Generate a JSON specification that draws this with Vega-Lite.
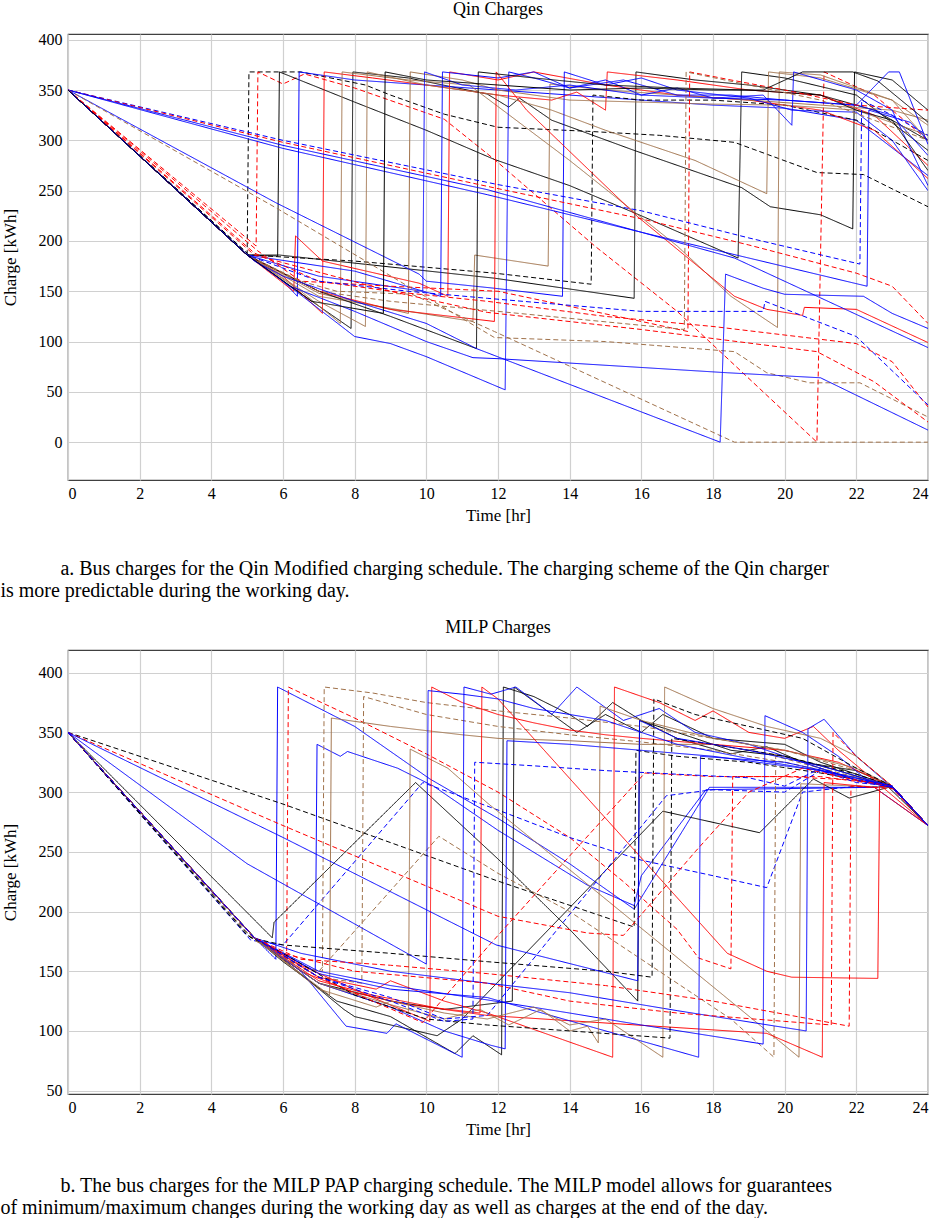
{
"$schema":"https://vega.github.io/schema/vega-lite/v6.json",
"background":"white",
"padding":{"left":0,"top":0,"right":0,"bottom":0},
"config":{
 "font":"Liberation Serif",
 "view":{"stroke":"#404040","strokeWidth":1.2},
 "axis":{"grid":true,"gridColor":"#d0d0d0","gridWidth":1.2,"domain":false,"ticks":false,"tickSize":0,"labelFont":"Liberation Serif","labelFontSize":16,"labelColor":"#000","titleFont":"Liberation Serif","titleFontSize":17,"titleFontWeight":"normal","titleColor":"#000"},
 "axisX":{"labelPadding":5,"titlePadding":6,"labelFont":"Liberation Serif"},
 "axisY":{"labelPadding":6,"titlePadding":19,"labelFont":"Liberation Serif"},
 "title":{"font":"Liberation Serif","fontSize":18,"fontWeight":"normal","color":"#000"}
},
"datasets":{
"serA":[{"s":1,"c":"black","d":"dashed"},{"s":2,"c":"red","d":"dashed"},{"s":3,"c":"black","d":"solid"},{"s":4,"c":"black","d":"solid"},{"s":5,"c":"blue","d":"solid"},{"s":6,"c":"black","d":"dashed"},{"s":7,"c":"black","d":"solid"},{"s":8,"c":"red","d":"solid"},{"s":9,"c":"red","d":"solid"},{"s":10,"c":"brown","d":"solid"},{"s":11,"c":"brown","d":"solid"},{"s":12,"c":"brown","d":"solid"},{"s":13,"c":"brown","d":"solid"},{"s":14,"c":"blue","d":"solid"},{"s":15,"c":"blue","d":"solid"},{"s":16,"c":"blue","d":"solid"},{"s":17,"c":"blue","d":"solid"},{"s":18,"c":"red","d":"solid"},{"s":19,"c":"black","d":"solid"},{"s":20,"c":"red","d":"dashed"},{"s":21,"c":"blue","d":"dashed"},{"s":22,"c":"red","d":"dashed"},{"s":23,"c":"blue","d":"solid"},{"s":24,"c":"blue","d":"solid"},{"s":26,"c":"brown","d":"dashed"},{"s":27,"c":"brown","d":"dashed"},{"s":28,"c":"brown","d":"dashed"},{"s":29,"c":"red","d":"dashed"},{"s":30,"c":"red","d":"dashed"},{"s":31,"c":"blue","d":"dashed"},{"s":32,"c":"blue","d":"solid"},{"s":33,"c":"blue","d":"solid"},{"s":34,"c":"black","d":"solid"}],
"pa":[
{"s":1,"t":0,"v":350},{"s":1,"t":5.0,"v":188},{"s":1,"t":5.05,"v":368},{"s":1,"t":6.5,"v":368},{"s":1,"t":8.3,"v":355},{"s":1,"t":9,"v":345},{"s":1,"t":10.5,"v":326},{"s":1,"t":12,"v":313},{"s":1,"t":14.5,"v":309},{"s":1,"t":16.5,"v":305},{"s":1,"t":18.6,"v":298},{"s":1,"t":20.9,"v":268},{"s":1,"t":22.2,"v":266},{"s":1,"t":24,"v":234},
{"s":2,"t":0,"v":350},{"s":2,"t":5.25,"v":195},{"s":2,"t":5.3,"v":368},{"s":2,"t":6,"v":356},{"s":2,"t":6.6,"v":366},{"s":2,"t":8,"v":352},{"s":2,"t":10.5,"v":321},{"s":2,"t":11.9,"v":281},{"s":2,"t":14.7,"v":195},{"s":2,"t":17,"v":130},{"s":2,"t":20.9,"v":0},{"s":2,"t":21.1,"v":368},{"s":2,"t":22.5,"v":345},{"s":2,"t":24,"v":300},
{"s":3,"t":0,"v":350},{"s":3,"t":5,"v":186},{"s":3,"t":5.85,"v":185},{"s":3,"t":5.9,"v":368},{"s":3,"t":8,"v":338},{"s":3,"t":10,"v":310},{"s":3,"t":11.9,"v":281},{"s":3,"t":14,"v":255},{"s":3,"t":16,"v":225},{"s":3,"t":18.7,"v":183},{"s":3,"t":18.8,"v":368},{"s":3,"t":20,"v":362},{"s":3,"t":22,"v":345},{"s":3,"t":24,"v":290},
{"s":4,"t":0,"v":350},{"s":4,"t":5,"v":186},{"s":4,"t":6,"v":160},{"s":4,"t":7.9,"v":113},{"s":4,"t":7.95,"v":368},{"s":4,"t":9.5,"v":362},{"s":4,"t":11.7,"v":346},{"s":4,"t":12.3,"v":333},{"s":4,"t":12.6,"v":342},{"s":4,"t":13.5,"v":320},{"s":4,"t":15.8,"v":290},{"s":4,"t":18.8,"v":253},{"s":4,"t":19.6,"v":234},{"s":4,"t":21,"v":226},{"s":4,"t":21.9,"v":212},{"s":4,"t":21.95,"v":368},{"s":4,"t":23,"v":360},{"s":4,"t":24,"v":330},
{"s":5,"t":0,"v":350},{"s":5,"t":5,"v":186},{"s":5,"t":6,"v":160},{"s":5,"t":6.4,"v":145},{"s":5,"t":6.45,"v":368},{"s":5,"t":8,"v":360},{"s":5,"t":10,"v":355},{"s":5,"t":12,"v":350},{"s":5,"t":14,"v":345},{"s":5,"t":16,"v":340},{"s":5,"t":18,"v":335},{"s":5,"t":20,"v":332},{"s":5,"t":22,"v":320},{"s":5,"t":24,"v":265},
{"s":6,"t":0,"v":350},{"s":6,"t":5.05,"v":186},{"s":6,"t":8,"v":180},{"s":6,"t":11.9,"v":168},{"s":6,"t":14.6,"v":157},{"s":6,"t":14.65,"v":345},{"s":6,"t":16,"v":340},{"s":6,"t":18,"v":340},{"s":6,"t":20,"v":335},{"s":6,"t":22,"v":320},{"s":6,"t":24,"v":280},
{"s":7,"t":0,"v":350},{"s":7,"t":5,"v":186},{"s":7,"t":5.9,"v":186},{"s":7,"t":11.9,"v":163},{"s":7,"t":15.8,"v":143},{"s":7,"t":15.85,"v":368},{"s":7,"t":17.5,"v":360},{"s":7,"t":19,"v":355},{"s":7,"t":21,"v":345},{"s":7,"t":22.5,"v":330},{"s":7,"t":24,"v":300},
{"s":8,"t":0,"v":350},{"s":8,"t":5,"v":186},{"s":8,"t":6,"v":165},{"s":8,"t":7.1,"v":128},{"s":8,"t":7.15,"v":368},{"s":8,"t":8.5,"v":362},{"s":8,"t":10,"v":355},{"s":8,"t":11,"v":350},{"s":8,"t":12,"v":345},{"s":8,"t":13.5,"v":340},{"s":8,"t":14.2,"v":348},{"s":8,"t":15,"v":330},{"s":8,"t":15.05,"v":368},{"s":8,"t":17,"v":360},{"s":8,"t":19,"v":350},{"s":8,"t":21,"v":345},{"s":8,"t":22.5,"v":325},{"s":8,"t":24,"v":275},
{"s":9,"t":0,"v":350},{"s":9,"t":5,"v":186},{"s":9,"t":6.3,"v":150},{"s":9,"t":6.35,"v":205},{"s":9,"t":7.1,"v":180},{"s":9,"t":9.8,"v":158},{"s":9,"t":10.6,"v":145},{"s":9,"t":10.65,"v":368},{"s":9,"t":12,"v":360},{"s":9,"t":13,"v":368},{"s":9,"t":15,"v":355},{"s":9,"t":17,"v":345},{"s":9,"t":19,"v":340},{"s":9,"t":21,"v":330},{"s":9,"t":22.5,"v":310},{"s":9,"t":24,"v":262},
{"s":10,"t":0,"v":350},{"s":10,"t":5,"v":186},{"s":10,"t":6.5,"v":150},{"s":10,"t":7.6,"v":118},{"s":10,"t":7.65,"v":368},{"s":10,"t":9.5,"v":360},{"s":10,"t":11.2,"v":355},{"s":10,"t":14,"v":280},{"s":10,"t":17,"v":195},{"s":10,"t":18.5,"v":145},{"s":10,"t":19.8,"v":114},{"s":10,"t":19.85,"v":368},{"s":10,"t":21,"v":365},{"s":10,"t":23,"v":340},{"s":10,"t":24,"v":300},
{"s":11,"t":0,"v":350},{"s":11,"t":5,"v":186},{"s":11,"t":7,"v":140},{"s":11,"t":8.3,"v":115},{"s":11,"t":8.35,"v":368},{"s":11,"t":10,"v":355},{"s":11,"t":12,"v":345},{"s":11,"t":13.5,"v":330},{"s":11,"t":15,"v":310},{"s":11,"t":17.5,"v":280},{"s":11,"t":19.5,"v":247},{"s":11,"t":19.55,"v":368},{"s":11,"t":21,"v":362},{"s":11,"t":23,"v":340},{"s":11,"t":24,"v":315},
{"s":12,"t":0,"v":350},{"s":12,"t":5,"v":186},{"s":12,"t":7,"v":148},{"s":12,"t":9.5,"v":128},{"s":12,"t":9.55,"v":368},{"s":12,"t":11,"v":360},{"s":12,"t":12,"v":350},{"s":12,"t":14,"v":340},{"s":12,"t":16,"v":338},{"s":12,"t":18,"v":336},{"s":12,"t":20,"v":335},{"s":12,"t":22,"v":330},{"s":12,"t":24,"v":305},
{"s":13,"t":0,"v":350},{"s":13,"t":5,"v":186},{"s":13,"t":7,"v":145},{"s":13,"t":9.5,"v":130},{"s":13,"t":11.3,"v":120},{"s":13,"t":11.35,"v":186},{"s":13,"t":13.4,"v":175},{"s":13,"t":13.45,"v":356},{"s":13,"t":15,"v":350},{"s":13,"t":17,"v":345},{"s":13,"t":19,"v":340},{"s":13,"t":21,"v":335},{"s":13,"t":23,"v":330},{"s":13,"t":24,"v":320},
{"s":14,"t":0,"v":350},{"s":14,"t":5,"v":186},{"s":14,"t":7,"v":165},{"s":14,"t":9.9,"v":150},{"s":14,"t":9.95,"v":368},{"s":14,"t":11,"v":355},{"s":14,"t":12.5,"v":350},{"s":14,"t":14,"v":355},{"s":14,"t":16,"v":345},{"s":14,"t":18,"v":342},{"s":14,"t":19.4,"v":345},{"s":14,"t":20.2,"v":315},{"s":14,"t":20.25,"v":368},{"s":14,"t":22,"v":350},{"s":14,"t":23,"v":330},{"s":14,"t":24,"v":255},
{"s":15,"t":0,"v":350},{"s":15,"t":5,"v":186},{"s":15,"t":8,"v":170},{"s":15,"t":10.4,"v":145},{"s":15,"t":10.45,"v":368},{"s":15,"t":12,"v":362},{"s":15,"t":13,"v":368},{"s":15,"t":14,"v":352},{"s":15,"t":15.5,"v":360},{"s":15,"t":17,"v":345},{"s":15,"t":18.5,"v":345},{"s":15,"t":20,"v":340},{"s":15,"t":22,"v":335},{"s":15,"t":22.9,"v":368},{"s":15,"t":23.2,"v":368},{"s":15,"t":24,"v":296},
{"s":16,"t":0,"v":350},{"s":16,"t":5,"v":186},{"s":16,"t":6,"v":160},{"s":16,"t":8,"v":105},{"s":16,"t":9,"v":98},{"s":16,"t":10,"v":85},{"s":16,"t":11,"v":70},{"s":16,"t":12.2,"v":52},{"s":16,"t":12.3,"v":368},{"s":16,"t":13,"v":362},{"s":16,"t":14,"v":352},{"s":16,"t":15,"v":360},{"s":16,"t":16,"v":345},{"s":16,"t":17,"v":352},{"s":16,"t":18,"v":342},{"s":16,"t":20,"v":340},{"s":16,"t":22,"v":335},{"s":16,"t":23,"v":325},{"s":16,"t":24,"v":285},
{"s":17,"t":0,"v":350},{"s":17,"t":5.8,"v":238},{"s":17,"t":9.8,"v":167},{"s":17,"t":10,"v":160},{"s":17,"t":11.9,"v":153},{"s":17,"t":13.8,"v":145},{"s":17,"t":13.85,"v":368},{"s":17,"t":15,"v":355},{"s":17,"t":16,"v":362},{"s":17,"t":17,"v":350},{"s":17,"t":19,"v":342},{"s":17,"t":20.2,"v":330},{"s":17,"t":22,"v":328},{"s":17,"t":23,"v":300},{"s":17,"t":24,"v":250},
{"s":18,"t":0,"v":350},{"s":18,"t":5,"v":186},{"s":18,"t":7,"v":150},{"s":18,"t":9,"v":132},{"s":18,"t":11.9,"v":120},{"s":18,"t":11.95,"v":368},{"s":18,"t":12.8,"v":330},{"s":18,"t":15.9,"v":224},{"s":18,"t":18.6,"v":145},{"s":18,"t":19.5,"v":132},{"s":18,"t":20.5,"v":126},{"s":18,"t":20.55,"v":134},{"s":18,"t":22,"v":132},{"s":18,"t":24,"v":99},
{"s":19,"t":0,"v":350},{"s":19,"t":5,"v":186},{"s":19,"t":7,"v":150},{"s":19,"t":9,"v":125},{"s":19,"t":11.4,"v":93},{"s":19,"t":11.45,"v":368},{"s":19,"t":13,"v":362},{"s":19,"t":15,"v":355},{"s":19,"t":17,"v":352},{"s":19,"t":19,"v":350},{"s":19,"t":21,"v":345},{"s":19,"t":22,"v":330},{"s":19,"t":23,"v":320},{"s":19,"t":24,"v":270},
{"s":20,"t":0,"v":350},{"s":20,"t":5.3,"v":190},{"s":20,"t":6.5,"v":160},{"s":20,"t":9,"v":155},{"s":20,"t":12,"v":150},{"s":20,"t":14,"v":135},{"s":20,"t":16,"v":120},{"s":20,"t":17.3,"v":110},{"s":20,"t":17.35,"v":368},{"s":20,"t":18.5,"v":360},{"s":20,"t":20,"v":350},{"s":20,"t":22,"v":335},{"s":20,"t":24,"v":330},
{"s":21,"t":0,"v":350},{"s":21,"t":6,"v":300},{"s":21,"t":12,"v":256},{"s":21,"t":16,"v":230},{"s":21,"t":19,"v":203},{"s":21,"t":22.1,"v":177},{"s":21,"t":22.15,"v":340},{"s":21,"t":23,"v":325},{"s":21,"t":24,"v":305},
{"s":22,"t":0,"v":350},{"s":22,"t":6,"v":298},{"s":22,"t":12,"v":252},{"s":22,"t":16,"v":222},{"s":22,"t":19,"v":196},{"s":22,"t":22,"v":168},{"s":22,"t":23,"v":155},{"s":22,"t":24,"v":118},
{"s":23,"t":0,"v":350},{"s":23,"t":6,"v":295},{"s":23,"t":11.7,"v":251},{"s":23,"t":18.6,"v":183},{"s":23,"t":24,"v":94},
{"s":24,"t":0,"v":350},{"s":24,"t":6,"v":292},{"s":24,"t":11.7,"v":246},{"s":24,"t":17,"v":200},{"s":24,"t":22.3,"v":155},{"s":24,"t":22.35,"v":330},{"s":24,"t":23.5,"v":318},{"s":24,"t":24,"v":300},
{"s":26,"t":0,"v":350},{"s":26,"t":5.8,"v":233},{"s":26,"t":11.9,"v":104},{"s":26,"t":15,"v":100},{"s":26,"t":18.6,"v":90},{"s":26,"t":19.5,"v":69},{"s":26,"t":20.7,"v":59},{"s":26,"t":22.1,"v":59},{"s":26,"t":24,"v":25},
{"s":27,"t":0,"v":350},{"s":27,"t":5,"v":186},{"s":27,"t":6.5,"v":160},{"s":27,"t":7.5,"v":150},{"s":27,"t":9.6,"v":147},{"s":27,"t":11.9,"v":110},{"s":27,"t":18.6,"v":0},{"s":27,"t":24,"v":0},
{"s":28,"t":0,"v":350},{"s":28,"t":5,"v":186},{"s":28,"t":7,"v":150},{"s":28,"t":9,"v":140},{"s":28,"t":12,"v":130},{"s":28,"t":17.2,"v":112},{"s":28,"t":17.25,"v":368},{"s":28,"t":19,"v":355},{"s":28,"t":21,"v":340},{"s":28,"t":24,"v":300},
{"s":29,"t":0,"v":350},{"s":29,"t":5.2,"v":188},{"s":29,"t":7,"v":160},{"s":29,"t":9,"v":150},{"s":29,"t":11.7,"v":129},{"s":29,"t":16,"v":112},{"s":29,"t":20.9,"v":90},{"s":29,"t":22.5,"v":60},{"s":29,"t":24,"v":20},
{"s":30,"t":0,"v":350},{"s":30,"t":5.2,"v":186},{"s":30,"t":9,"v":150},{"s":30,"t":11.7,"v":140},{"s":30,"t":15,"v":125},{"s":30,"t":18,"v":115},{"s":30,"t":22,"v":98},{"s":30,"t":23,"v":80},{"s":30,"t":24,"v":35},
{"s":31,"t":0,"v":350},{"s":31,"t":5,"v":186},{"s":31,"t":7,"v":160},{"s":31,"t":9.5,"v":150},{"s":31,"t":11.7,"v":143},{"s":31,"t":16,"v":130},{"s":31,"t":19.4,"v":130},{"s":31,"t":19.45,"v":140},{"s":31,"t":22,"v":105},{"s":31,"t":24,"v":37},
{"s":32,"t":0,"v":350},{"s":32,"t":5,"v":186},{"s":32,"t":6.2,"v":155},{"s":32,"t":8,"v":130},{"s":32,"t":10,"v":100},{"s":32,"t":11.3,"v":84},{"s":32,"t":12,"v":83},{"s":32,"t":18.4,"v":69},{"s":32,"t":21,"v":64},{"s":32,"t":24,"v":12},
{"s":33,"t":0,"v":350},{"s":33,"t":5.2,"v":180},{"s":33,"t":6,"v":165},{"s":33,"t":8,"v":140},{"s":33,"t":10,"v":118},{"s":33,"t":11.4,"v":93},{"s":33,"t":18.2,"v":0},{"s":33,"t":18.35,"v":167},{"s":33,"t":19.4,"v":153},{"s":33,"t":20,"v":147},{"s":33,"t":22.2,"v":145},{"s":33,"t":23,"v":128},{"s":33,"t":24,"v":113},
{"s":34,"t":0,"v":350},{"s":34,"t":5,"v":186},{"s":34,"t":6.8,"v":140},{"s":34,"t":8.8,"v":128},{"s":34,"t":8.85,"v":368},{"s":34,"t":10,"v":360},{"s":34,"t":12,"v":355},{"s":34,"t":14,"v":350},{"s":34,"t":16,"v":352},{"s":34,"t":18,"v":350},{"s":34,"t":19.4,"v":350},{"s":34,"t":20.5,"v":368},{"s":34,"t":21.9,"v":368},{"s":34,"t":22.6,"v":359},{"s":34,"t":24,"v":318}
],
"serB":[{"s":1,"c":"blue","d":"solid"},{"s":2,"c":"red","d":"dashed"},{"s":3,"c":"blue","d":"solid"},{"s":4,"c":"blue","d":"dashed"},{"s":5,"c":"black","d":"solid"},{"s":6,"c":"black","d":"dashed"},{"s":7,"c":"black","d":"solid"},{"s":8,"c":"black","d":"solid"},{"s":9,"c":"black","d":"solid"},{"s":10,"c":"brown","d":"solid"},{"s":11,"c":"brown","d":"dashed"},{"s":12,"c":"brown","d":"dashed"},{"s":13,"c":"brown","d":"solid"},{"s":14,"c":"brown","d":"dashed"},{"s":15,"c":"red","d":"solid"},{"s":16,"c":"red","d":"solid"},{"s":17,"c":"red","d":"solid"},{"s":18,"c":"red","d":"solid"},{"s":19,"c":"blue","d":"solid"},{"s":20,"c":"blue","d":"solid"},{"s":21,"c":"blue","d":"solid"},{"s":22,"c":"blue","d":"solid"},{"s":23,"c":"blue","d":"solid"},{"s":24,"c":"brown","d":"solid"},{"s":25,"c":"brown","d":"solid"},{"s":26,"c":"black","d":"dashed"},{"s":27,"c":"black","d":"dashed"},{"s":28,"c":"red","d":"dashed"},{"s":29,"c":"red","d":"dashed"},{"s":30,"c":"red","d":"dashed"},{"s":31,"c":"blue","d":"dashed"},{"s":32,"c":"blue","d":"dashed"},{"s":33,"c":"red","d":"dashed"},{"s":34,"c":"blue","d":"solid"},{"s":35,"c":"blue","d":"solid"}],
"pb":[
{"s":1,"t":0,"v":350},{"s":1,"t":5.2,"v":178},{"s":1,"t":5.8,"v":160},{"s":1,"t":5.85,"v":388},{"s":1,"t":8,"v":355},{"s":1,"t":10.1,"v":311},{"s":1,"t":12,"v":278},{"s":1,"t":14,"v":240},{"s":1,"t":15.8,"v":202},{"s":1,"t":17.9,"v":304},{"s":1,"t":20,"v":304},{"s":1,"t":22.5,"v":304},{"s":1,"t":23,"v":305},{"s":1,"t":24,"v":272},
{"s":2,"t":0,"v":350},{"s":2,"t":5.2,"v":178},{"s":2,"t":6.1,"v":158},{"s":2,"t":6.15,"v":388},{"s":2,"t":8,"v":362},{"s":2,"t":10,"v":332},{"s":2,"t":12,"v":300},{"s":2,"t":14,"v":262},{"s":2,"t":15.5,"v":225},{"s":2,"t":17,"v":185},{"s":2,"t":17.6,"v":161},{"s":2,"t":18.5,"v":152},{"s":2,"t":18.55,"v":313},{"s":2,"t":21,"v":313},{"s":2,"t":23,"v":305},{"s":2,"t":24,"v":272},
{"s":3,"t":0,"v":350},{"s":3,"t":5.2,"v":178},{"s":3,"t":6.9,"v":150},{"s":3,"t":6.95,"v":340},{"s":3,"t":7.6,"v":330},{"s":3,"t":7.8,"v":334},{"s":3,"t":9.2,"v":320},{"s":3,"t":10.2,"v":305},{"s":3,"t":12,"v":268},{"s":3,"t":14.5,"v":222},{"s":3,"t":15.8,"v":205},{"s":3,"t":16,"v":230},{"s":3,"t":17.8,"v":302},{"s":3,"t":22.5,"v":304},{"s":3,"t":24,"v":272},
{"s":4,"t":0,"v":350},{"s":4,"t":5.1,"v":176},{"s":4,"t":6.0,"v":172},{"s":4,"t":9.9,"v":308},{"s":4,"t":12,"v":285},{"s":4,"t":14,"v":262},{"s":4,"t":16,"v":243},{"s":4,"t":18,"v":230},{"s":4,"t":19.5,"v":220},{"s":4,"t":20.5,"v":300},{"s":4,"t":22,"v":305},{"s":4,"t":23,"v":304},{"s":4,"t":24,"v":272},
{"s":5,"t":0,"v":350},{"s":5,"t":5.7,"v":178},{"s":5,"t":5.75,"v":191},{"s":5,"t":9.7,"v":308},{"s":5,"t":12,"v":244},{"s":5,"t":14,"v":185},{"s":5,"t":15.9,"v":125},{"s":5,"t":15.95,"v":360},{"s":5,"t":17,"v":350},{"s":5,"t":18.5,"v":335},{"s":5,"t":20,"v":330},{"s":5,"t":21.5,"v":318},{"s":5,"t":23,"v":304},{"s":5,"t":24,"v":272},
{"s":6,"t":0,"v":350},{"s":6,"t":6,"v":290},{"s":6,"t":11.95,"v":226},{"s":6,"t":15.8,"v":187},{"s":6,"t":15.85,"v":335},{"s":6,"t":17,"v":330},{"s":6,"t":19,"v":325},{"s":6,"t":21,"v":316},{"s":6,"t":23,"v":305},{"s":6,"t":24,"v":272},
{"s":7,"t":0,"v":350},{"s":7,"t":5.3,"v":175},{"s":7,"t":6,"v":160},{"s":7,"t":7.7,"v":118},{"s":7,"t":8,"v":112},{"s":7,"t":10.3,"v":96},{"s":7,"t":11,"v":110},{"s":7,"t":16.6,"v":284},{"s":7,"t":19.3,"v":266},{"s":7,"t":20.8,"v":311},{"s":7,"t":21.8,"v":295},{"s":7,"t":22.9,"v":304},{"s":7,"t":24,"v":272},
{"s":8,"t":0,"v":350},{"s":8,"t":5.2,"v":178},{"s":8,"t":6,"v":158},{"s":8,"t":7.5,"v":125},{"s":8,"t":9,"v":112},{"s":8,"t":10.8,"v":81},{"s":8,"t":11.3,"v":96},{"s":8,"t":12.1,"v":80},{"s":8,"t":12.15,"v":388},{"s":8,"t":13,"v":380},{"s":8,"t":14,"v":365},{"s":8,"t":14.5,"v":355},{"s":8,"t":15.2,"v":375},{"s":8,"t":16,"v":360},{"s":8,"t":17,"v":345},{"s":8,"t":18.5,"v":332},{"s":8,"t":19.5,"v":338},{"s":8,"t":20.5,"v":325},{"s":8,"t":22,"v":318},{"s":8,"t":23,"v":305},{"s":8,"t":24,"v":272},
{"s":9,"t":0,"v":350},{"s":9,"t":5.3,"v":175},{"s":9,"t":7,"v":140},{"s":9,"t":9,"v":125},{"s":9,"t":10.5,"v":118},{"s":9,"t":12.4,"v":125},{"s":9,"t":12.45,"v":388},{"s":9,"t":14.2,"v":350},{"s":9,"t":15,"v":365},{"s":9,"t":16,"v":350},{"s":9,"t":16.6,"v":365},{"s":9,"t":18,"v":345},{"s":9,"t":20,"v":340},{"s":9,"t":21,"v":325},{"s":9,"t":22,"v":315},{"s":9,"t":23,"v":305},{"s":9,"t":24,"v":272},
{"s":10,"t":0,"v":350},{"s":10,"t":5.3,"v":175},{"s":10,"t":6.5,"v":148},{"s":10,"t":7.3,"v":130},{"s":10,"t":7.35,"v":362},{"s":10,"t":9,"v":355},{"s":10,"t":11,"v":348},{"s":10,"t":12,"v":345},{"s":10,"t":14,"v":343},{"s":10,"t":16,"v":340},{"s":10,"t":18,"v":340},{"s":10,"t":20,"v":330},{"s":10,"t":21,"v":320},{"s":10,"t":22,"v":310},{"s":10,"t":23,"v":305},{"s":10,"t":24,"v":272},
{"s":11,"t":0,"v":350},{"s":11,"t":5.2,"v":178},{"s":11,"t":6.5,"v":152},{"s":11,"t":7.1,"v":150},{"s":11,"t":7.15,"v":388},{"s":11,"t":8.5,"v":383},{"s":11,"t":10,"v":375},{"s":11,"t":12,"v":368},{"s":11,"t":14,"v":362},{"s":11,"t":16,"v":355},{"s":11,"t":18,"v":345},{"s":11,"t":20,"v":335},{"s":11,"t":22,"v":318},{"s":11,"t":23,"v":305},{"s":11,"t":24,"v":272},
{"s":12,"t":0,"v":350},{"s":12,"t":5.2,"v":176},{"s":12,"t":7,"v":145},{"s":12,"t":8.2,"v":140},{"s":12,"t":8.25,"v":380},{"s":12,"t":10,"v":365},{"s":12,"t":12,"v":355},{"s":12,"t":14,"v":348},{"s":12,"t":16,"v":342},{"s":12,"t":18,"v":335},{"s":12,"t":20,"v":325},{"s":12,"t":22,"v":312},{"s":12,"t":23,"v":305},{"s":12,"t":24,"v":272},
{"s":13,"t":0,"v":350},{"s":13,"t":5.3,"v":175},{"s":13,"t":7,"v":140},{"s":13,"t":8.5,"v":125},{"s":13,"t":9.5,"v":115},{"s":13,"t":9.55,"v":336},{"s":13,"t":10.6,"v":320},{"s":13,"t":11.7,"v":291},{"s":13,"t":14,"v":235},{"s":13,"t":16,"v":186},{"s":13,"t":18,"v":137},{"s":13,"t":20.4,"v":78},{"s":13,"t":20.45,"v":307},{"s":13,"t":22,"v":305},{"s":13,"t":23,"v":304},{"s":13,"t":24,"v":272},
{"s":14,"t":0,"v":350},{"s":14,"t":5.2,"v":178},{"s":14,"t":6,"v":160},{"s":14,"t":7,"v":150},{"s":14,"t":10.35,"v":263},{"s":14,"t":12,"v":232},{"s":14,"t":14,"v":200},{"s":14,"t":16,"v":160},{"s":14,"t":17.5,"v":130},{"s":14,"t":18.5,"v":110},{"s":14,"t":19.7,"v":78},{"s":14,"t":19.75,"v":330},{"s":14,"t":21,"v":320},{"s":14,"t":23,"v":305},{"s":14,"t":24,"v":272},
{"s":15,"t":0,"v":350},{"s":15,"t":5.2,"v":178},{"s":15,"t":6.5,"v":150},{"s":15,"t":8,"v":132},{"s":15,"t":9.5,"v":122},{"s":15,"t":11.5,"v":115},{"s":15,"t":11.55,"v":388},{"s":15,"t":12,"v":378},{"s":15,"t":18.4,"v":165},{"s":15,"t":19.5,"v":150},{"s":15,"t":20.2,"v":145},{"s":15,"t":22.6,"v":144},{"s":15,"t":22.65,"v":305},{"s":15,"t":23,"v":304},{"s":15,"t":24,"v":272},
{"s":16,"t":0,"v":350},{"s":16,"t":5.2,"v":178},{"s":16,"t":7,"v":145},{"s":16,"t":8.6,"v":135},{"s":16,"t":9,"v":142},{"s":16,"t":10.5,"v":125},{"s":16,"t":11.7,"v":115},{"s":16,"t":15.2,"v":78},{"s":16,"t":15.25,"v":388},{"s":16,"t":16.5,"v":375},{"s":16,"t":17.5,"v":360},{"s":16,"t":18,"v":368},{"s":16,"t":19,"v":350},{"s":16,"t":20,"v":345},{"s":16,"t":20.8,"v":355},{"s":16,"t":21.5,"v":335},{"s":16,"t":22.5,"v":310},{"s":16,"t":24,"v":272},
{"s":17,"t":0,"v":350},{"s":17,"t":5.2,"v":178},{"s":17,"t":6.5,"v":155},{"s":17,"t":8.5,"v":128},{"s":17,"t":10.1,"v":108},{"s":17,"t":10.15,"v":388},{"s":17,"t":11,"v":375},{"s":17,"t":12,"v":365},{"s":17,"t":13,"v":358},{"s":17,"t":14,"v":352},{"s":17,"t":15,"v":348},{"s":17,"t":16,"v":345},{"s":17,"t":18,"v":340},{"s":17,"t":20,"v":335},{"s":17,"t":21.5,"v":325},{"s":17,"t":23,"v":305},{"s":17,"t":24,"v":272},
{"s":18,"t":0,"v":350},{"s":18,"t":5.2,"v":178},{"s":18,"t":7,"v":142},{"s":18,"t":8.5,"v":130},{"s":18,"t":10.5,"v":118},{"s":18,"t":11.7,"v":113},{"s":18,"t":19.5,"v":98},{"s":18,"t":21.05,"v":78},{"s":18,"t":21.1,"v":308},{"s":18,"t":22.5,"v":304},{"s":18,"t":24,"v":272},
{"s":19,"t":0,"v":350},{"s":19,"t":5.2,"v":178},{"s":19,"t":6.5,"v":150},{"s":19,"t":7.76,"v":104},{"s":19,"t":8.9,"v":98},{"s":19,"t":9.15,"v":106},{"s":19,"t":11.0,"v":78},{"s":19,"t":11.05,"v":388},{"s":19,"t":11.8,"v":382},{"s":19,"t":12.5,"v":388},{"s":19,"t":13.5,"v":365},{"s":19,"t":14.2,"v":388},{"s":19,"t":15.5,"v":360},{"s":19,"t":16.5,"v":370},{"s":19,"t":17.5,"v":350},{"s":19,"t":19,"v":340},{"s":19,"t":20.5,"v":325},{"s":19,"t":22,"v":310},{"s":19,"t":23,"v":304},{"s":19,"t":24,"v":272},
{"s":20,"t":0,"v":350},{"s":20,"t":5.2,"v":178},{"s":20,"t":7,"v":140},{"s":20,"t":9,"v":120},{"s":20,"t":10.5,"v":100},{"s":20,"t":11.8,"v":88},{"s":20,"t":12.2,"v":85},{"s":20,"t":12.25,"v":343},{"s":20,"t":14,"v":340},{"s":20,"t":16,"v":335},{"s":20,"t":18,"v":330},{"s":20,"t":20,"v":322},{"s":20,"t":21,"v":318},{"s":20,"t":22,"v":310},{"s":20,"t":23,"v":304},{"s":20,"t":24,"v":272},
{"s":21,"t":0,"v":350},{"s":21,"t":5.2,"v":178},{"s":21,"t":7,"v":148},{"s":21,"t":9,"v":135},{"s":21,"t":11.7,"v":128},{"s":21,"t":17.6,"v":78},{"s":21,"t":17.65,"v":330},{"s":21,"t":20,"v":325},{"s":21,"t":22,"v":312},{"s":21,"t":23,"v":304},{"s":21,"t":24,"v":272},
{"s":22,"t":0,"v":350},{"s":22,"t":5.2,"v":178},{"s":22,"t":7,"v":150},{"s":22,"t":9,"v":138},{"s":22,"t":11.7,"v":126},{"s":22,"t":14,"v":115},{"s":22,"t":16,"v":105},{"s":22,"t":19.4,"v":89},{"s":22,"t":19.45,"v":364},{"s":22,"t":20.5,"v":350},{"s":22,"t":21.5,"v":330},{"s":22,"t":22.3,"v":310},{"s":22,"t":23,"v":304},{"s":22,"t":24,"v":272},
{"s":23,"t":0,"v":350},{"s":23,"t":5.2,"v":178},{"s":23,"t":6.5,"v":165},{"s":23,"t":9,"v":150},{"s":23,"t":11.7,"v":140},{"s":23,"t":14,"v":132},{"s":23,"t":17,"v":117},{"s":23,"t":20.6,"v":100},{"s":23,"t":20.65,"v":353},{"s":23,"t":21.1,"v":361},{"s":23,"t":22,"v":330},{"s":23,"t":23,"v":304},{"s":23,"t":24,"v":272},
{"s":24,"t":0,"v":350},{"s":24,"t":5.2,"v":178},{"s":24,"t":7,"v":135},{"s":24,"t":8.6,"v":120},{"s":24,"t":9,"v":125},{"s":24,"t":10.5,"v":115},{"s":24,"t":11.7,"v":110},{"s":24,"t":13,"v":120},{"s":24,"t":14,"v":105},{"s":24,"t":15,"v":110},{"s":24,"t":16.6,"v":78},{"s":24,"t":16.65,"v":388},{"s":24,"t":18,"v":370},{"s":24,"t":19.5,"v":355},{"s":24,"t":21,"v":345},{"s":24,"t":22,"v":330},{"s":24,"t":23,"v":305},{"s":24,"t":24,"v":272},
{"s":25,"t":0,"v":350},{"s":25,"t":5.2,"v":178},{"s":25,"t":7,"v":140},{"s":25,"t":9,"v":122},{"s":25,"t":10.5,"v":110},{"s":25,"t":11.5,"v":118},{"s":25,"t":12.3,"v":105},{"s":25,"t":13.2,"v":118},{"s":25,"t":14,"v":100},{"s":25,"t":14.5,"v":104},{"s":25,"t":14.8,"v":90},{"s":25,"t":14.85,"v":372},{"s":25,"t":16,"v":360},{"s":25,"t":18,"v":345},{"s":25,"t":20,"v":335},{"s":25,"t":22,"v":320},{"s":25,"t":23,"v":305},{"s":25,"t":24,"v":272},
{"s":26,"t":0,"v":350},{"s":26,"t":5.0,"v":180},{"s":26,"t":6,"v":165},{"s":26,"t":8,"v":130},{"s":26,"t":10,"v":110},{"s":26,"t":11.7,"v":105},{"s":26,"t":16.8,"v":94},{"s":26,"t":16.85,"v":345},{"s":26,"t":18,"v":340},{"s":26,"t":20,"v":330},{"s":26,"t":22,"v":315},{"s":26,"t":23,"v":305},{"s":26,"t":24,"v":272},
{"s":27,"t":0,"v":350},{"s":27,"t":5.1,"v":178},{"s":27,"t":6,"v":172},{"s":27,"t":9,"v":165},{"s":27,"t":11.7,"v":158},{"s":27,"t":15,"v":150},{"s":27,"t":16.3,"v":145},{"s":27,"t":16.35,"v":378},{"s":27,"t":17.5,"v":365},{"s":27,"t":19,"v":355},{"s":27,"t":20.5,"v":345},{"s":27,"t":22,"v":320},{"s":27,"t":23,"v":305},{"s":27,"t":24,"v":272},
{"s":28,"t":0,"v":350},{"s":28,"t":5.2,"v":178},{"s":28,"t":6,"v":165},{"s":28,"t":8,"v":150},{"s":28,"t":11.7,"v":140},{"s":28,"t":14,"v":125},{"s":28,"t":17,"v":115},{"s":28,"t":20,"v":108},{"s":28,"t":21.3,"v":105},{"s":28,"t":21.35,"v":350},{"s":28,"t":22,"v":330},{"s":28,"t":23,"v":305},{"s":28,"t":24,"v":272},
{"s":29,"t":0,"v":350},{"s":29,"t":5.2,"v":178},{"s":29,"t":6.5,"v":160},{"s":29,"t":9,"v":155},{"s":29,"t":11.7,"v":148},{"s":29,"t":15,"v":138},{"s":29,"t":18,"v":125},{"s":29,"t":21.8,"v":104},{"s":29,"t":21.85,"v":305},{"s":29,"t":23,"v":303},{"s":29,"t":24,"v":272},
{"s":30,"t":0,"v":350},{"s":30,"t":5.2,"v":178},{"s":30,"t":7,"v":145},{"s":30,"t":8.5,"v":125},{"s":30,"t":9.9,"v":107},{"s":30,"t":11.7,"v":170},{"s":30,"t":13.5,"v":230},{"s":30,"t":16.1,"v":316},{"s":30,"t":18,"v":313},{"s":30,"t":20,"v":313},{"s":30,"t":22,"v":310},{"s":30,"t":23,"v":305},{"s":30,"t":24,"v":272},
{"s":31,"t":0,"v":350},{"s":31,"t":5.2,"v":178},{"s":31,"t":7,"v":145},{"s":31,"t":9,"v":125},{"s":31,"t":10.5,"v":108},{"s":31,"t":11.3,"v":110},{"s":31,"t":11.35,"v":325},{"s":31,"t":13,"v":322},{"s":31,"t":15,"v":318},{"s":31,"t":17,"v":315},{"s":31,"t":19,"v":312},{"s":31,"t":20,"v":305},{"s":31,"t":21,"v":320},{"s":31,"t":22,"v":310},{"s":31,"t":23,"v":305},{"s":31,"t":24,"v":272},
{"s":32,"t":0,"v":350},{"s":32,"t":5.2,"v":178},{"s":32,"t":7,"v":145},{"s":32,"t":9,"v":128},{"s":32,"t":10.5,"v":110},{"s":32,"t":11.7,"v":113},{"s":32,"t":16.7,"v":297},{"s":32,"t":18,"v":302},{"s":32,"t":20,"v":300},{"s":32,"t":21,"v":318},{"s":32,"t":22,"v":308},{"s":32,"t":23,"v":305},{"s":32,"t":24,"v":272},
{"s":33,"t":0,"v":350},{"s":33,"t":6,"v":272},{"s":33,"t":12,"v":196},{"s":33,"t":14.5,"v":182},{"s":33,"t":15.5,"v":180},{"s":33,"t":17.5,"v":250},{"s":33,"t":19,"v":300},{"s":33,"t":20.5,"v":320},{"s":33,"t":22,"v":310},{"s":33,"t":23,"v":305},{"s":33,"t":24,"v":272},
{"s":34,"t":0,"v":350},{"s":34,"t":5,"v":240},{"s":34,"t":10,"v":156},{"s":34,"t":10.05,"v":385},{"s":34,"t":11,"v":382},{"s":34,"t":12,"v":378},{"s":34,"t":13,"v":370},{"s":34,"t":14,"v":365},{"s":34,"t":15,"v":360},{"s":34,"t":17,"v":340},{"s":34,"t":19,"v":328},{"s":34,"t":21,"v":318},{"s":34,"t":23,"v":305},{"s":34,"t":24,"v":272},
{"s":35,"t":0,"v":350},{"s":35,"t":6,"v":262},{"s":35,"t":11.95,"v":172},{"s":35,"t":15.9,"v":142},{"s":35,"t":15.95,"v":360},{"s":35,"t":17,"v":345},{"s":35,"t":19,"v":335},{"s":35,"t":21,"v":322},{"s":35,"t":23,"v":305},{"s":35,"t":24,"v":272}
]
},
"spacing":17,
"vconcat":[
 {
  "title":{"text":["\u200b\u00a0\u00a0\u00a0\u00a0\u00a0\u00a0\u00a0\u00a0\u00a0\u00a0\u00a0\u00a0a.  Bus charges for the Qin Modified charging schedule. The charging scheme of the Qin charger","is more predictable during the working day."],"orient":"bottom","anchor":"start","frame":"bounds","fontSize":20,"lineHeight":22,"offset":35},
  "vconcat":[{
   "title":{"text":"Qin Charges","offset":13},
   "width":860,"height":446,
   "data":{"name":"pa"},
   "transform":[{"lookup":"s","from":{"data":{"name":"serA"},"key":"s","fields":["c","d"]}},{"window":[{"op":"row_number","as":"i"}],"groupby":["s"]}],
   "mark":{"type":"line","strokeWidth":1,"clip":true},
   "encoding":{
    "x":{"field":"t","type":"quantitative","scale":{"domain":[0,24],"nice":false},"axis":{"values":[0,2,4,6,8,10,12,14,16,18,20,22,24],"title":"Time [hr]","labelFont":"Liberation Serif"}},
    "y":{"field":"v","type":"quantitative","scale":{"domain":[-37.6,405.7],"nice":false,"zero":false},"axis":{"values":[0,50,100,150,200,250,300,350,400],"title":"Charge [kWh]","labelFont":"Liberation Serif"}},
    "color":{"field":"c","type":"nominal","scale":{"domain":["blue","red","black","brown"],"range":["#0000ff","#ff0000","#000000","#a0724b"]},"legend":null},
    "strokeDash":{"field":"d","type":"nominal","scale":{"domain":["solid","dashed"],"range":[[1,0],[5,3]]},"legend":null},
    "detail":{"field":"s","type":"nominal"},
    "order":{"field":"i","type":"quantitative"}
   }
  }]
 },
 {
  "title":{"text":["\u200b\u00a0\u00a0\u00a0\u00a0\u00a0\u00a0\u00a0\u00a0\u00a0\u00a0\u00a0\u00a0b.  The bus charges for the MILP PAP charging schedule. The MILP model allows for guarantees","of minimum/maximum changes during the working day as well as charges at the end of the day."],"orient":"bottom","anchor":"start","frame":"bounds","fontSize":20,"lineHeight":22,"offset":38},
  "vconcat":[{
   "title":{"text":"MILP Charges","offset":13},
   "width":860,"height":444,
   "data":{"name":"pb"},
   "transform":[{"lookup":"s","from":{"data":{"name":"serB"},"key":"s","fields":["c","d"]}},{"window":[{"op":"row_number","as":"i"}],"groupby":["s"]}],
   "mark":{"type":"line","strokeWidth":1,"clip":true},
   "encoding":{
    "x":{"field":"t","type":"quantitative","scale":{"domain":[0,24],"nice":false},"axis":{"values":[0,2,4,6,8,10,12,14,16,18,20,22,24],"title":"Time [hr]","labelFont":"Liberation Serif"}},
    "y":{"field":"v","type":"quantitative","scale":{"domain":[47.2,419],"nice":false,"zero":false},"axis":{"values":[50,100,150,200,250,300,350,400],"title":"Charge [kWh]","labelFont":"Liberation Serif"}},
    "color":{"field":"c","type":"nominal","scale":{"domain":["blue","red","black","brown"],"range":["#0000ff","#ff0000","#000000","#a0724b"]},"legend":null},
    "strokeDash":{"field":"d","type":"nominal","scale":{"domain":["solid","dashed"],"range":[[1,0],[5,3]]},"legend":null},
    "detail":{"field":"s","type":"nominal"},
    "order":{"field":"i","type":"quantitative"}
   }
  }]
 }
]
}
